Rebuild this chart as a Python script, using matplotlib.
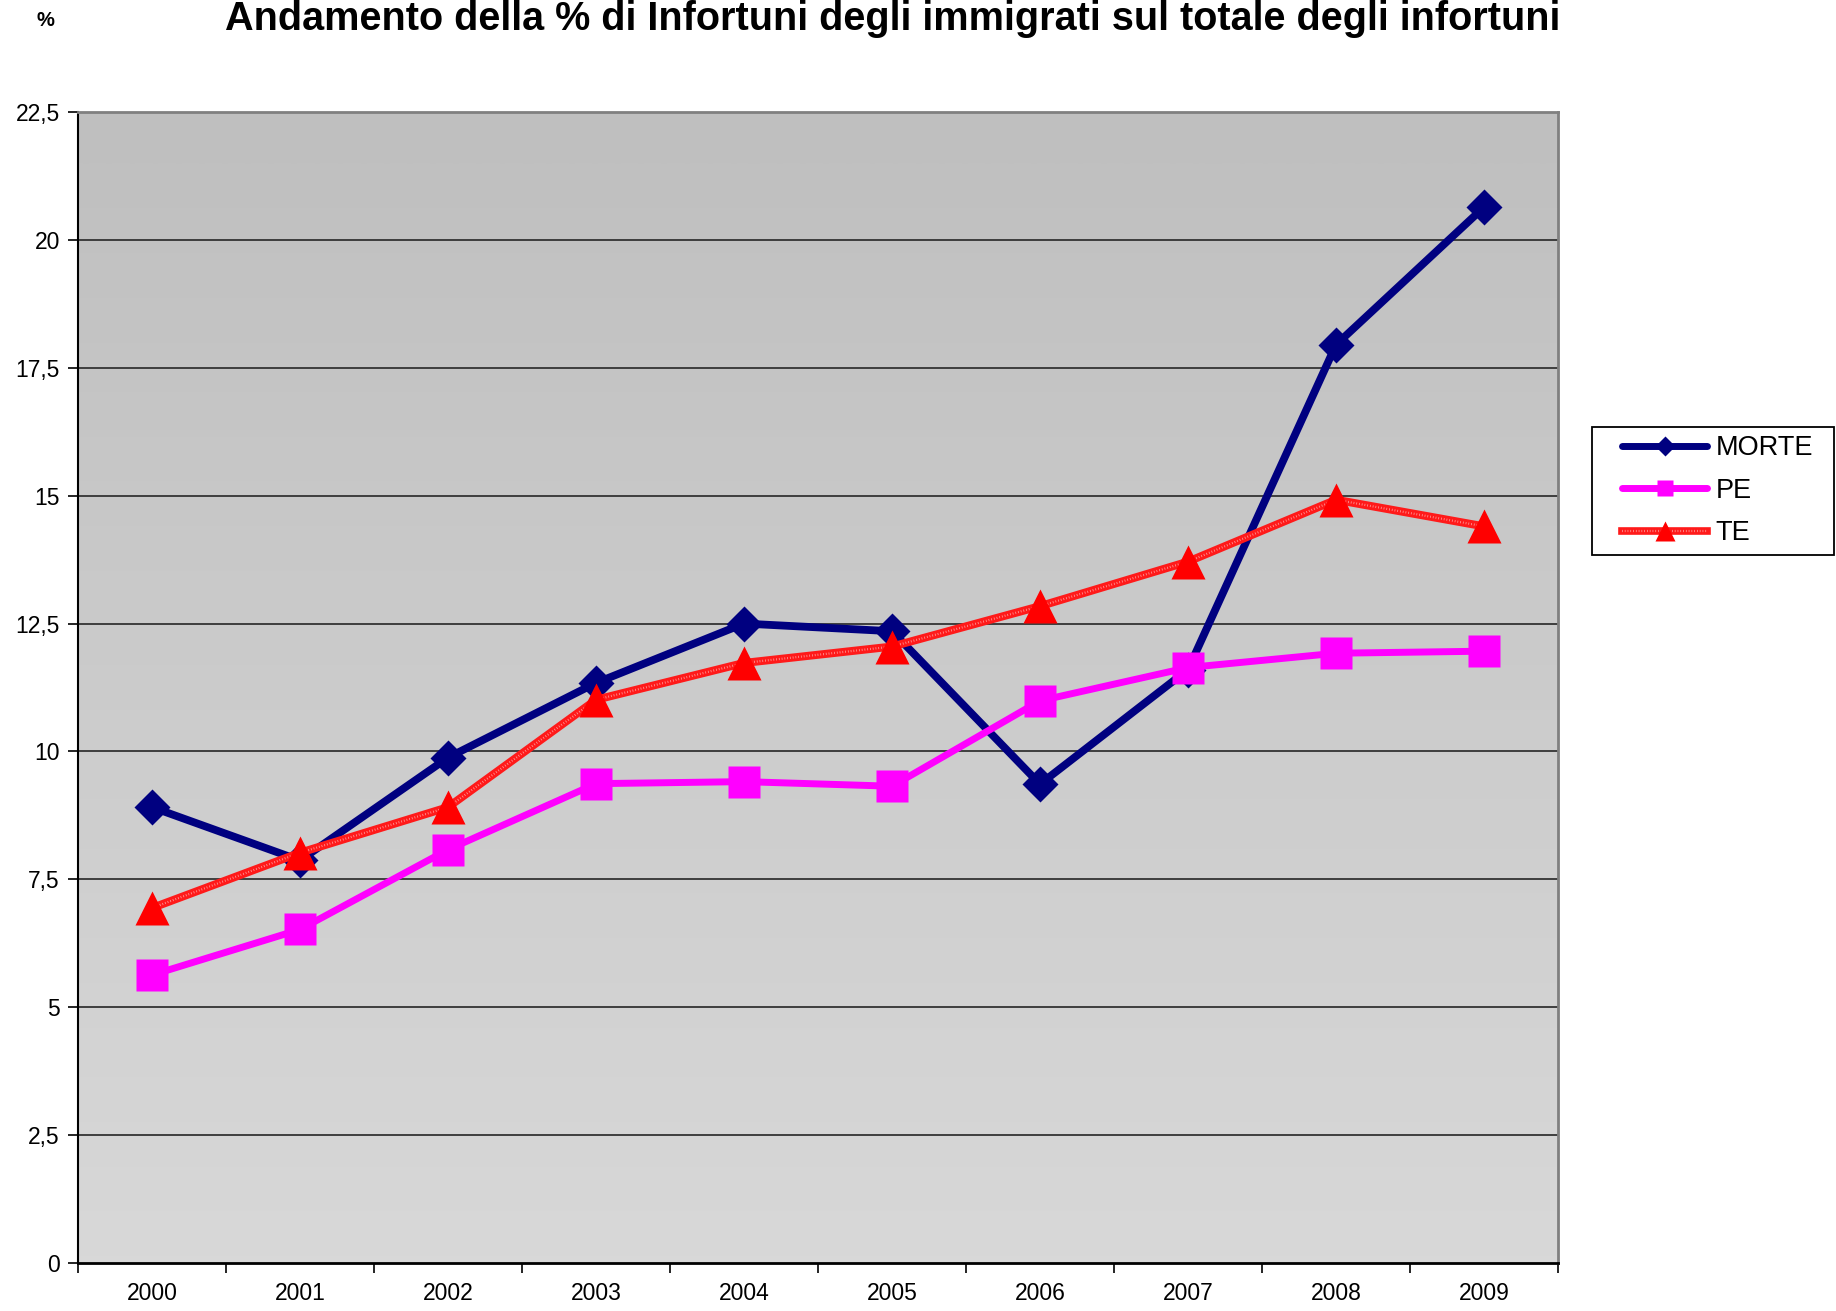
import numpy as np
import matplotlib
matplotlib.use("Agg")
import matplotlib.pyplot as plt
from matplotlib.lines import Line2D
from matplotlib.patches import Rectangle
from matplotlib.legend_handler import HandlerTuple

plt.rcParams['font.family'] = ['Liberation Sans', 'DejaVu Sans']

years = ['2000', '2001', '2002', '2003', '2004', '2005', '2006', '2007', '2008', '2009']
morte = [8.91, 7.87, 9.88, 11.34, 12.50, 12.35, 9.36, 11.60, 17.95, 20.64]
pe = [5.63, 6.52, 8.08, 9.37, 9.41, 9.32, 10.99, 11.64, 11.92, 11.96]
te = [6.94, 8.02, 8.91, 11.01, 11.73, 12.05, 12.84, 13.71, 14.92, 14.40]
yticks = [0, 2.5, 5, 7.5, 10, 12.5, 15, 17.5, 20, 22.5]
ytick_labels = ['0', '2,5', '5', '7,5', '10', '12,5', '15', '17,5', '20', '22,5']
title = 'Andamento della % di Infortuni degli immigrati sul totale degli infortuni'

W, H = 1836, 1311
fig = plt.figure(figsize=(W / 100, H / 100), dpi=100)
ax = fig.add_axes([78 / W, 1 - 1263 / H, (1558 - 78) / W, (1263 - 112) / H])

x = np.arange(len(years))

# gradient background
grad = np.linspace(0, 1, 256).reshape(-1, 1)
ax.imshow(grad, cmap=matplotlib.colors.LinearSegmentedColormap.from_list('g', ['#bfbfbf', '#d8d8d8']),
          extent=[0, 1, 0, 1], transform=ax.transAxes, aspect='auto', zorder=0, interpolation='bilinear')

ax.set_xlim(-0.5, len(years) - 0.5)
ax.set_ylim(0, 22.5)

for yv in yticks[1:-1]:
    ax.axhline(yv, color='#333333', lw=1.3, zorder=1)

# MORTE
ax.plot(x, morte, color='#000080', lw=5.6, marker='D', ms=18.5, mec='none', zorder=3,
        solid_joinstyle='round', solid_capstyle='round')
# PE
ax.plot(x, pe, color='#ff00ff', lw=5.0, marker='s', ms=23, mec='none', zorder=4)
# TE (patterned line)
ax.plot(x, te, color='#ff1a1a', lw=5.8, zorder=5)
ax.plot(x, te, color='white', lw=1.6, ls=(0, (0.35, 0.9)), alpha=0.55, zorder=5.1)
ax.plot(x, te, ls='none', marker='^', ms=25, color='#ff0000', mec='none', zorder=5.2)

# axes styling
ax.set_yticks(yticks)
ax.set_yticklabels(ytick_labels, fontsize=16.5)
ax.set_xticks(np.arange(-0.5, len(years), 1.0))
ax.set_xticklabels([])
ax.set_xticks(x, minor=True)
ax.set_xticklabels(years, minor=True, fontsize=16.5)
ax.tick_params(axis='x', which='major', length=7, width=1.2, direction='out', color='black')
ax.tick_params(axis='x', which='minor', length=0, pad=14)
ax.tick_params(axis='y', length=7, width=1.2, direction='out', pad=6)
ax.spines['left'].set_linewidth(1.5)
ax.spines['bottom'].set_linewidth(2)
ax.spines['top'].set_color('#808080')
ax.spines['right'].set_color('#808080')
ax.spines['top'].set_linewidth(2)
ax.spines['right'].set_linewidth(2)

fig.text(893 / W, 1 - 30 / H, title, ha='center', va='baseline', fontsize=28.5, fontweight='bold')
fig.text(45 / W, 1 - 20 / H, '%', ha='center', va='center', fontsize=14.5, fontweight='bold')

# legend frame
fig.patches.append(Rectangle((1592 / W, 1 - 555 / H), (1834 - 1592) / W, (555 - 427) / H,
                             transform=fig.transFigure, facecolor='white', edgecolor='black',
                             lw=1.3, zorder=1))

# legend
h1 = Line2D([], [], color='#000080', lw=5, marker='D', ms=10.5, mec='none',
            solid_capstyle='round')
h2 = Line2D([], [], color='#ff00ff', lw=5, marker='s', ms=12, mec='none',
            solid_capstyle='round')
h3a = Line2D([], [], color='#ff1a1a', lw=5.5)
h3b = Line2D([], [], color='white', lw=1.6, ls=(0, (0.35, 0.9)), alpha=0.55)
h3c = Line2D([], [], ls='none', marker='^', ms=14, color='#ff0000', mec='none')
leg = fig.legend([h1, h2, (h3a, h3b, h3c)], ['MORTE', 'PE', 'TE'],
                 handler_map={tuple: HandlerTuple(ndivide=1, pad=0)},
                 loc='upper left', bbox_to_anchor=(1622 / W, 1 - 435 / H),
                 fontsize=19.5, frameon=False,
                 handlelength=3.15, handletextpad=0.3, labelspacing=0.61,
                 borderpad=0, borderaxespad=0)
leg.set_zorder(2)

fig.savefig('out.png', dpi=100, facecolor='white')
